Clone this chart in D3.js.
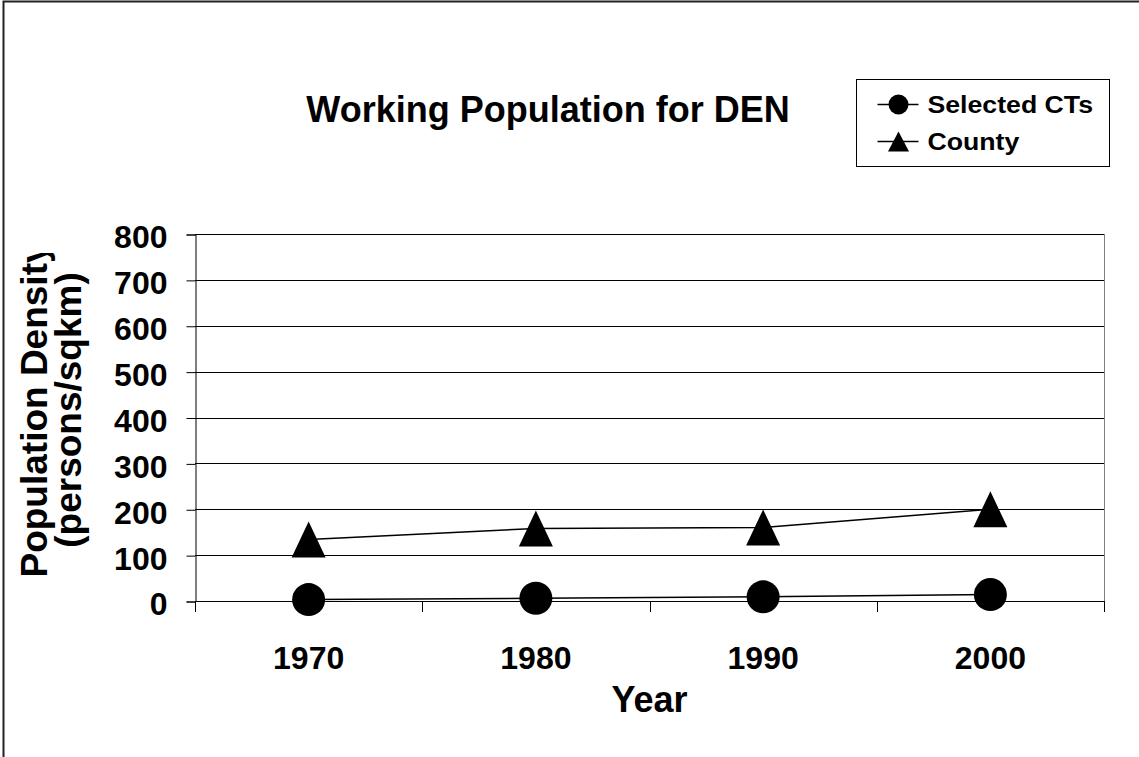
<!DOCTYPE html>
<html>
<head>
<meta charset="utf-8">
<script src="https://cdn.jsdelivr.net/npm/d3@7"></script>
<style>
	html, body { margin: 0; padding: 0; background: #fff; }
	svg { display: block; font-family: "Liberation Sans", Arial, sans-serif; font-weight: bold; }
</style>
</head>
<body>
<div id="chart"></div>
<script>
// --------- Data --------- //
var years = ["1970", "1980", "1990", "2000"];
var selectedCTs = [3, 6, 9, 14];
var county = [134, 158, 160, 200];
var yTicks = [0, 100, 200, 300, 400, 500, 600, 700, 800];
var seriesNames = ["Selected CTs", "County"];
// --------- /Data --------- //

var width = 1139, height = 757;
var plot = {left: 195, right: 1104, top: 234, bottom: 601};

var svg = d3.select("#chart").append("svg")
	.attr("width", width)
	.attr("height", height);

// outer chart frame (only left and top edges visible)
svg.append("path")
	.attr("d", "M3.5,757V1.5H1139")
	.attr("fill", "none")
	.attr("stroke", "#222")
	.attr("stroke-width", 2);

var x = d3.scaleBand().domain(years).range([plot.left, plot.right]).padding(0);
var y = d3.scaleLinear().domain([0, 800]).range([plot.bottom, plot.top]);

// gridlines
svg.append("g").selectAll("line")
	.data(yTicks)
	.join("line")
	.attr("x1", plot.left).attr("x2", plot.right)
	.attr("y1", function(d){ return Math.round(y(d)) + 0.5; })
	.attr("y2", function(d){ return Math.round(y(d)) + 0.5; })
	.attr("stroke", "#000")
	.attr("stroke-width", 1);

// right edge of the plot area
svg.append("line")
	.attr("x1", plot.right + 0.5).attr("x2", plot.right + 0.5)
	.attr("y1", plot.top).attr("y2", plot.bottom)
	.attr("stroke", "#808080");

// y axis
var yAxis = svg.append("g")
	.attr("transform", "translate(" + (plot.left + 0.5) + ",0.5)")
	.call(d3.axisLeft(y).tickValues(yTicks).tickSize(9).tickPadding(19).tickFormat(d3.format("d")));
yAxis.select(".domain").attr("stroke", "#000");
yAxis.selectAll(".tick line").attr("stroke", "#000");
yAxis.selectAll(".tick text")
	.attr("font-family", "'Liberation Sans', Arial, sans-serif")
	.attr("font-weight", "bold")
	.attr("font-size", 32)
	.attr("dy", "0.42em")
	.attr("fill", "#000");

// x axis: ticks sit between categories
var xEdges = years.map(function(yr){ return x(yr); }).concat([plot.right]);
var xAxis = svg.append("g");
xAxis.append("line")
	.attr("x1", plot.left).attr("x2", plot.right)
	.attr("y1", plot.bottom + 0.5).attr("y2", plot.bottom + 0.5)
	.attr("stroke", "#000");
xAxis.selectAll("line.tk")
	.data(xEdges)
	.join("line")
	.attr("class", "tk")
	.attr("x1", function(d){ return Math.round(d) + 0.5; })
	.attr("x2", function(d){ return Math.round(d) + 0.5; })
	.attr("y1", plot.bottom).attr("y2", plot.bottom + 11)
	.attr("stroke", "#000");
xAxis.selectAll("text")
	.data(years)
	.join("text")
	.attr("x", function(d){ return x(d) + x.bandwidth() / 2; })
	.attr("y", 669)
	.attr("text-anchor", "middle")
	.attr("font-size", 32)
	.text(function(d){ return d; });

// axis titles
svg.append("text")
	.attr("x", (plot.left + plot.right) / 2)
	.attr("y", 712)
	.attr("text-anchor", "middle")
	.attr("font-size", 36)
	.text("Year");

// y title is cut off at the top, as in the original
svg.append("clipPath").attr("id", "ytitle-clip")
	.append("rect").attr("x", 0).attr("y", 253).attr("width", 120).attr("height", 400);

var yTitle = svg.append("g")
	.attr("clip-path", "url(#ytitle-clip)")
	.append("text")
	.attr("transform", "translate(0,410) rotate(-90)")
	.attr("text-anchor", "middle")
	.attr("font-size", 37);
yTitle.append("tspan").attr("x", 0).attr("y", 47).text("Population Density");
yTitle.append("tspan").attr("x", 0).attr("y", 81).text("(persons/sqkm)");

// title
svg.append("text")
	.attr("x", 548)
	.attr("y", 122)
	.attr("text-anchor", "middle")
	.attr("font-size", 36)
	.text("Working Population for DEN");

// --------- Series --------- //
var cx = function(d, i){ return x(years[i]) + x.bandwidth() / 2; };
var line = d3.line()
	.x(function(d, i){ return x(years[i]) + x.bandwidth() / 2; })
	.y(function(d){ return y(d); });

var circleSym = d3.symbol().type(d3.symbolCircle).size(Math.PI * 16.5 * 16.5);
var triPath = function(w, h){ return "M0," + (-h / 2) + "L" + (w / 2) + "," + (h / 2) + "L" + (-w / 2) + "," + (h / 2) + "Z"; };

svg.append("path").datum(county)
	.attr("d", line).attr("fill", "none").attr("stroke", "#000").attr("stroke-width", 1.5);
svg.append("path").datum(selectedCTs)
	.attr("d", line).attr("fill", "none").attr("stroke", "#000").attr("stroke-width", 1.5);

svg.append("g").selectAll("path")
	.data(county)
	.join("path")
	.attr("transform", function(d, i){ return "translate(" + cx(d, i) + "," + y(d) + ")"; })
	.attr("d", triPath(34, 36))
	.attr("fill", "#000");

svg.append("g").selectAll("path")
	.data(selectedCTs)
	.join("path")
	.attr("transform", function(d, i){ return "translate(" + cx(d, i) + "," + y(d) + ")"; })
	.attr("d", circleSym)
	.attr("fill", "#000");

// --------- Legend --------- //
var legend = svg.append("g").attr("transform", "translate(856.5,79.5)");
legend.append("rect")
	.attr("width", 253).attr("height", 87)
	.attr("fill", "#fff").attr("stroke", "#000");

var legendItems = legend.selectAll("g.item")
	.data(seriesNames)
	.join("g")
	.attr("class", "item")
	.attr("transform", function(d, i){ return "translate(0," + (25 + i * 37) + ")"; });
legendItems.append("line")
	.attr("x1", 21).attr("x2", 62)
	.attr("stroke", "#000").attr("stroke-width", 1.5);
legendItems.append("path")
	.attr("transform", "translate(42,0)")
	.attr("d", function(d, i){
		return i === 0 ? d3.symbol().type(d3.symbolCircle).size(Math.PI * 10 * 10)() : triPath(21, 20);
	})
	.attr("fill", "#000");
legendItems.append("text")
	.attr("transform", "translate(71,0) scale(1.16,1)")
	.attr("dy", "0.36em")
	.attr("font-size", 23)
	.text(function(d){ return d; });
</script>
</body>
</html>
